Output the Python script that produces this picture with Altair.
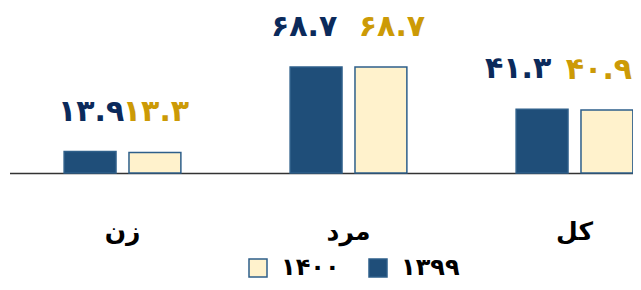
import altair as alt
import pandas as pd

categories = ["زن", "مرد", "کل"]
years = ["۱۳۹۹", "۱۴۰۰"]
values_1399 = [13.9, 68.7, 41.3]
values_1400 = [13.3, 68.7, 40.9]

FA = str.maketrans("0123456789", "۰۱۲۳۴۵۶۷۸۹")


def fa(v):
    return f"{v:.1f}".translate(FA)


rows = []
for c, a, b in zip(categories, values_1399, values_1400):
    rows.append(dict(cat=c, year=years[0], v=a, label=fa(a)))
    rows.append(dict(cat=c, year=years[1], v=b, label=fa(b)))
df = pd.DataFrame(rows)

FONT = "DejaVu Sans"
NAVY = "#0B2A5B"
GOLD = "#CC9A06"
TOP = 10

# small manual nudges of the value labels, as in the original (labels pulled apart)
nudge = (
    f"datum.cat == '{categories[1]}' ? (datum.year == '{years[0]}' ? -12 : 11) : "
    f"datum.cat == '{categories[2]}' ? (datum.year == '{years[0]}' ? -24 : -8) : 1"
)

x = alt.X(
    "cat:N",
    sort=categories,
    scale=alt.Scale(range=[1.5, 679.5], paddingInner=0.4834, paddingOuter=0.2417),
    axis=alt.Axis(
        title=None,
        labelFont=FONT,
        labelFontSize=25,
        labelFontWeight="bold",
        labelColor="black",
        labelPadding=46,
        labelAngle=0,
        ticks=False,
        domainColor="#333333",
        domainWidth=1.5,
    ),
)
xo = alt.XOffset("year:N", sort=years, scale=alt.Scale(paddingInner=0.2, paddingOuter=0))
y = alt.Y("v:Q", scale=alt.Scale(domain=[0, 100.5], nice=False), axis=None)

bars = alt.Chart(df).mark_bar(stroke="#2E5F8A", strokeWidth=1.5).encode(
    x=x,
    xOffset=xo,
    y=y,
    fill=alt.Fill(
        "year:N",
        scale=alt.Scale(domain=[years[1], years[0]], range=["#FFF2CC", "#1F4E79"]),
        legend=alt.Legend(
            title=None,
            orient="none",
            direction="horizontal",
            legendX=238,
            legendY=248 - TOP,
            padding=0,
            symbolType="square",
            symbolSize=324,
            symbolStrokeColor="#2E5F8A",
            symbolStrokeWidth=1.5,
            labelFont=FONT,
            labelFontSize=24,
            labelFontWeight="bold",
            labelColor="black",
            labelOffset=11,
            columnPadding=26,
        ),
    ),
)

labels = alt.Chart(df).mark_text(
    font=FONT, fontSize=30, fontWeight="bold", dy=-31, baseline="alphabetic",
    dx=alt.expr(nudge),
).encode(
    x=x,
    xOffset=xo,
    y=y,
    text="label:N",
    color=alt.condition(alt.datum.year == years[0], alt.value(NAVY), alt.value(GOLD)),
)

chart = (
    alt.layer(bars, labels)
    .properties(
        width=625,
        height=165 - TOP,
        autosize=alt.AutoSizeParams(type="none"),
        padding={"left": 0, "top": TOP, "right": 0, "bottom": 109},
    )
    .configure_view(stroke=None)
)

chart.save("out.html", embed_options={"renderer": "svg", "actions": False})
